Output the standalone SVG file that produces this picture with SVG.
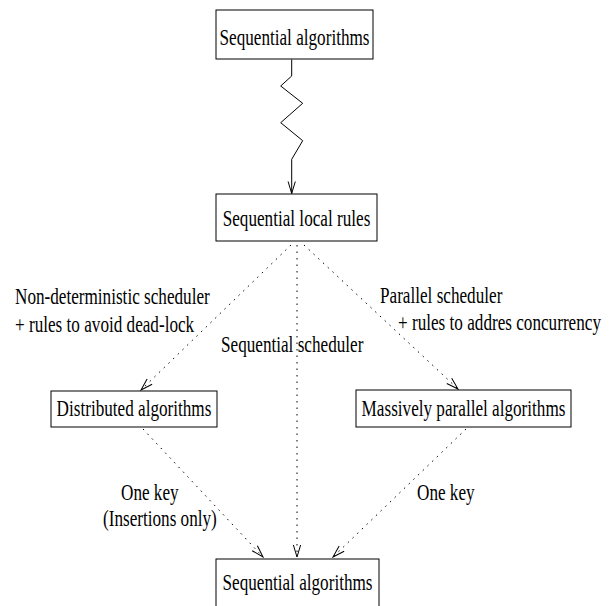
<svg xmlns="http://www.w3.org/2000/svg" width="613" height="606" viewBox="0 0 613 606">
<defs>
<marker id="ah" markerUnits="userSpaceOnUse" markerWidth="16" markerHeight="10" viewBox="-14 -5 16 10" refX="0" refY="0" orient="auto">
<path d="M-12,-3.6 L0,0 L-12,3.6" fill="none" stroke="#000" stroke-width="1"/>
</marker>
<style>
.box{fill:#fff;stroke:#000;stroke-width:1}
.t{font-family:"Liberation Serif","Times New Roman",serif;font-size:23.5px;fill:#000}
.c{text-anchor:middle}
.solid{fill:none;stroke:#000;stroke-width:1}
.dot{fill:none;stroke:#000;stroke-width:1;stroke-dasharray:1.5 5}
</style>
</defs>
<g id="connectors">
<path class="solid" d="M291.7,59.5 L291.7,76 L280.7,86 L302.7,103.3 L280.7,122.7 L302.7,140.7 L291.7,159.3 L291.7,193.5" marker-end="url(#ah)"/>
<line class="dot" x1="291" y1="245" x2="141" y2="390" marker-end="url(#ah)"/>
<line class="dot" x1="297" y1="245" x2="297" y2="557" marker-end="url(#ah)"/>
<line class="dot" x1="304" y1="245" x2="458" y2="389" marker-end="url(#ah)"/>
<line class="dot" x1="143" y1="429" x2="263" y2="557" marker-end="url(#ah)"/>
<line class="dot" x1="466" y1="429" x2="333" y2="557" marker-end="url(#ah)"/>
</g>
<g id="labels">
<text class="t" transform="translate(15,304) scale(0.73,1)">Non-deterministic scheduler</text>
<text class="t" transform="translate(15,331.5) scale(0.73,1)">+ rules to avoid dead-lock</text>
<text class="t" transform="translate(221,352) scale(0.73,1)">Sequential scheduler</text>
<text class="t" transform="translate(380,303) scale(0.73,1)">Parallel scheduler</text>
<text class="t" transform="translate(398,330) scale(0.73,1)">+ rules to addres concurrency</text>
<text class="t" transform="translate(121,500) scale(0.73,1)">One key</text>
<text class="t" transform="translate(103,526) scale(0.73,1)">(Insertions only)</text>
<text class="t" transform="translate(417,500) scale(0.73,1)">One key</text>
</g>
<g id="n-seq-top">
<rect class="box" x="216" y="10" width="157" height="49"/>
<text class="t c" transform="translate(294.5,45) scale(0.73,1)">Sequential algorithms</text>
</g>
<g id="n-local">
<rect class="box" x="216" y="194" width="161" height="47"/>
<text class="t c" transform="translate(296.5,226) scale(0.73,1)">Sequential local rules</text>
</g>
<g id="n-dist">
<rect class="box" x="51" y="391" width="166" height="36"/>
<text class="t c" transform="translate(134,416) scale(0.73,1)">Distributed algorithms</text>
</g>
<g id="n-mass">
<rect class="box" x="356" y="390" width="215" height="37"/>
<text class="t c" transform="translate(463.5,416) scale(0.73,1)">Massively parallel algorithms</text>
</g>
<g id="n-seq-bottom">
<rect class="box" x="216" y="559" width="163" height="49"/>
<text class="t c" transform="translate(297.5,590) scale(0.73,1)">Sequential algorithms</text>
</g>
</svg>
